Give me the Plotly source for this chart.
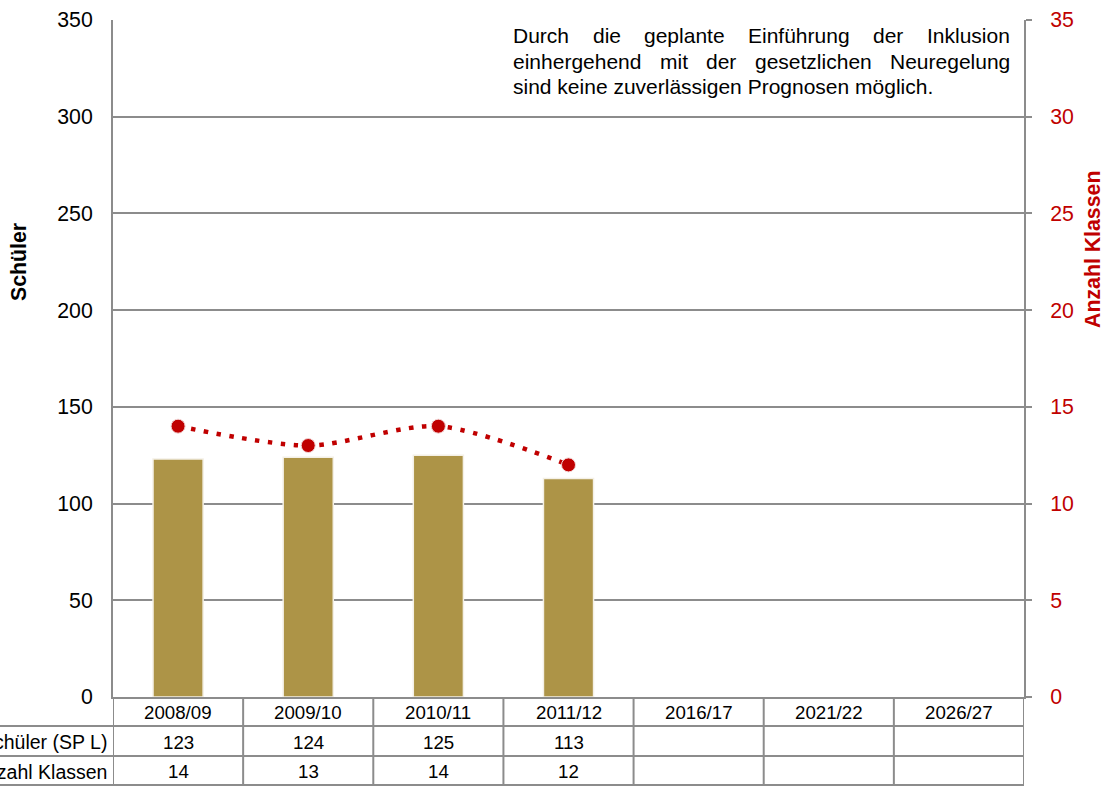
import plotly.graph_objects as go

categories = ["2008/09", "2009/10", "2010/11", "2011/12", "2016/17", "2021/22", "2026/27"]
schueler = [123, 124, 125, 113, None, None, None]
klassen = [14, 13, 14, 12, None, None, None]
row_labels = ["Schüler (SP L)", "Anzahl Klassen"]
left_ticks = [0, 50, 100, 150, 200, 250, 300, 350]
right_ticks = [0, 5, 10, 15, 20, 25, 30, 35]

note_lines = [
    "Durch die geplante Einführung der Inklusion",
    "einhergehend mit der gesetzlichen Neuregelung",
    "sind keine zuverlässigen Prognosen möglich.",
]

BAR = "#AD9447"
RED = "#C00000"
GRID = "#8C8C8C"
FONT = "Liberation Sans, Arial, sans-serif"
AX_FS = 21.3
TB_FS = 18.7
LB_FS = 19.5

W, H = 1109, 787
L, R, T, B = 113, 85, 20, 90
PW, PH = W - L - R, H - T - B


def px_x(p):
    return (p - L) / PW


def px_y(p):
    return (H - B - p) / PH


# Arial / Liberation Sans advance widths (em) for justification
_AW = {}
for ch in "abdeghnopquüöäß0123456789":
    _AW[ch] = 0.556
for ch in "ck sxyzv":
    _AW[ch] = 0.5
_AW.update({"i": 0.222, "l": 0.222, "j": 0.222, "f": 0.278, "t": 0.278, "r": 0.333,
            "m": 0.833, "w": 0.722, " ": 0.278, ".": 0.278, "D": 0.722, "E": 0.667,
            "I": 0.278, "N": 0.722, "P": 0.667, "K": 0.667})


def text_w(s, fs):
    return sum(_AW.get(c, 0.556) for c in s) * fs


fig = go.Figure()
fig.add_trace(go.Bar(
    x=categories, y=schueler, width=0.385,
    marker=dict(color=BAR, line=dict(color="#f4f0e6", width=1.5)),
    name="Schüler (SP L)", yaxis="y",
))
fig.add_trace(go.Scatter(
    x=categories, y=klassen, mode="lines+markers", yaxis="y2",
    line=dict(color=RED, width=4.5, dash="4.5px,8.5px", shape="spline", smoothing=0.8),
    marker=dict(color=RED, size=14, line=dict(color="#f3d6d6", width=1)),
    name="Anzahl Klassen", connectgaps=False,
))

fig.update_layout(
    width=W, height=H,
    margin=dict(l=L, r=R, t=T, b=B, autoexpand=False),
    paper_bgcolor="white", plot_bgcolor="white",
    showlegend=False,
    font=dict(family=FONT, size=AX_FS, color="black"),
    xaxis=dict(type="category", categoryarray=categories, range=[-0.5, 6.5],
               showticklabels=False, showgrid=False, zeroline=False,
               showline=True, linecolor=GRID, linewidth=2, ticks=""),
    yaxis=dict(range=[0, 350], tickvals=left_ticks, showgrid=True, gridcolor=GRID,
               gridwidth=1.5, zeroline=False, showline=True, linecolor=GRID, linewidth=2,
               ticks="", tickfont=dict(size=AX_FS, color="black"), ticklabelstandoff=14),
    yaxis2=dict(range=[0, 35], tickvals=right_ticks, overlaying="y", side="right",
                showgrid=False, zeroline=False, showline=True, linecolor=GRID, linewidth=2,
                ticks="outside", ticklen=6, tickcolor=GRID, tickwidth=2,
                tickfont=dict(size=AX_FS, color=RED), ticklabelstandoff=14),
)

# Table grid
row_edges = [697, 726, 756, 785]
shapes = []
for yp in row_edges[1:]:
    shapes.append(dict(type="line", xref="paper", yref="paper", x0=px_x(-5), x1=1,
                       y0=px_y(yp), y1=px_y(yp), line=dict(color=GRID, width=2)))
for k in range(len(categories) + 1):
    shapes.append(dict(type="line", xref="x", yref="paper", x0=k - 0.5, x1=k - 0.5,
                       y0=px_y(697), y1=px_y(785), line=dict(color=GRID, width=2)))
fig.update_layout(shapes=shapes)

ann = []
row_mid = [(row_edges[i] + row_edges[i + 1]) / 2 + 1 for i in range(3)]
for c, cat in enumerate(categories):
    ann.append(dict(x=cat, xref="x", y=px_y(row_mid[0]), yref="paper", text=cat,
                    showarrow=False, font=dict(size=TB_FS), xanchor="center", yanchor="middle"))
    for r, vals in enumerate([schueler, klassen]):
        if vals[c] is not None:
            ann.append(dict(x=cat, xref="x", y=px_y(row_mid[r + 1]), yref="paper",
                            text=str(vals[c]), showarrow=False, font=dict(size=TB_FS),
                            xanchor="center", yanchor="middle"))
for r, lab in enumerate(row_labels):
    ann.append(dict(x=px_x(109), xref="paper", y=px_y(row_mid[r + 1]), yref="paper", text=lab,
                    showarrow=False, font=dict(size=LB_FS), xanchor="right", yanchor="middle"))

# axis titles
ann.append(dict(x=px_x(19), xref="paper", y=px_y(262), yref="paper", text="<b>Schüler</b>",
                textangle=-90, showarrow=False, font=dict(size=AX_FS), xanchor="center",
                yanchor="middle"))
ann.append(dict(x=px_x(1093), xref="paper", y=px_y(250), yref="paper", text="<b>Anzahl Klassen</b>",
                textangle=-90, showarrow=False, font=dict(size=AX_FS, color=RED),
                xanchor="center", yanchor="middle"))

# justified note text (word-by-word placement, last line left-aligned)
NOTE_FS = 21
x_left, x_right = 513, 1010
line_y = [36, 61, 86]
for li, line in enumerate(note_lines):
    words = line.split(" ")
    if li == len(note_lines) - 1:
        ann.append(dict(x=px_x(x_left - 2), xref="paper", y=px_y(line_y[li]), yref="paper",
                        text=line, showarrow=False, font=dict(size=NOTE_FS), xanchor="left",
                        yanchor="middle"))
        continue
    widths = [text_w(w, NOTE_FS) for w in words]
    gap = (x_right - x_left - sum(widths)) / (len(words) - 1)
    xpos = x_left
    for w, wd in zip(words, widths):
        ann.append(dict(x=px_x(xpos + wd / 2), xref="paper", y=px_y(line_y[li]), yref="paper",
                        text=w, showarrow=False, font=dict(size=NOTE_FS), xanchor="center",
                        yanchor="middle"))
        xpos += wd + gap

fig.update_layout(annotations=ann)
fig.write_html("out.html", config={"displayModeBar": False},
               post_script="document.body.style.margin='0px';")
